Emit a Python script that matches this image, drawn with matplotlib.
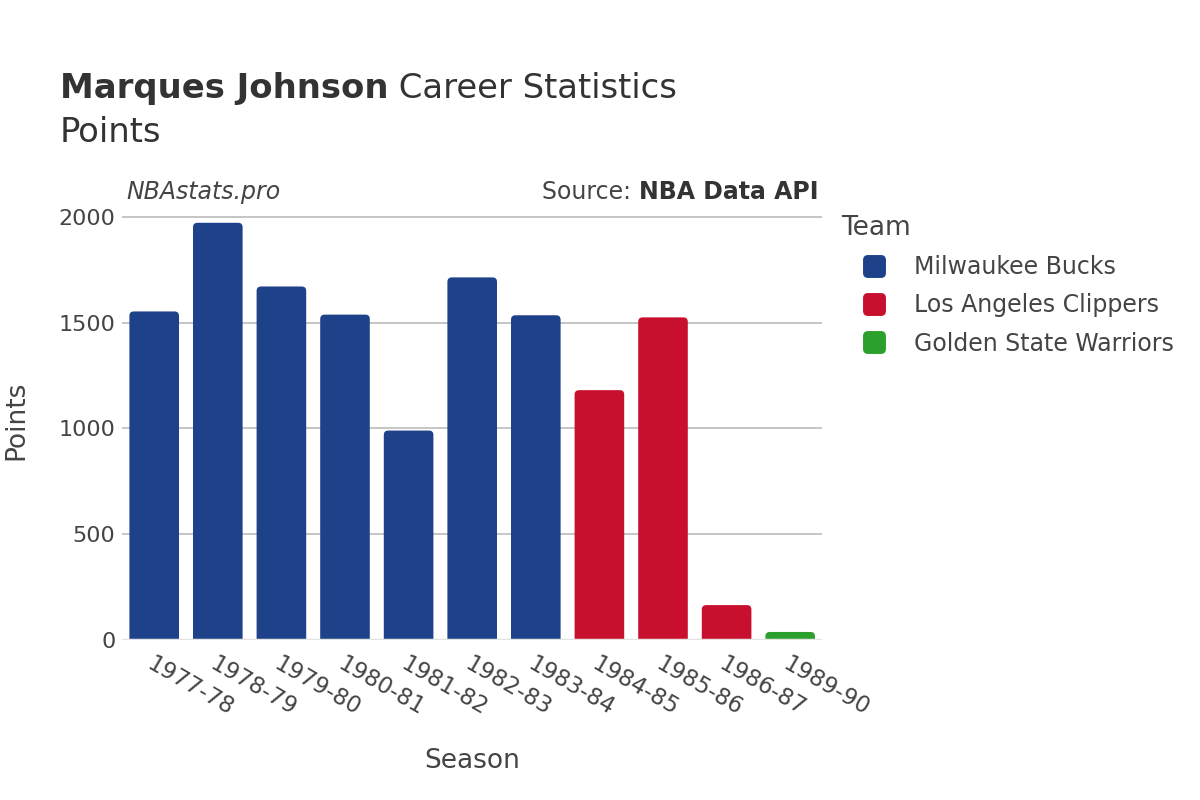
import matplotlib.pyplot as plt
from matplotlib.patches import FancyBboxPatch, BoxStyle
from matplotlib.lines import Line2D

seasons = ['1977-78', '1978-79', '1979-80', '1980-81', '1981-82', '1982-83',
           '1983-84', '1984-85', '1985-86', '1986-87', '1989-90']
points = [1553, 1972, 1671, 1538, 990, 1714, 1535, 1181, 1525, 165, 38]
teams = ['Milwaukee Bucks'] * 7 + ['Los Angeles Clippers'] * 3 + ['Golden State Warriors']

team_names = ['Milwaukee Bucks', 'Los Angeles Clippers', 'Golden State Warriors']
team_colors = {'Milwaukee Bucks': '#1d428a',
               'Los Angeles Clippers': '#c8102e',
               'Golden State Warriors': '#2ca02c'}

plt.rcParams['font.family'] = ['DejaVu Sans']
txt = '#444444'

fig = plt.figure(figsize=(12, 8), dpi=100)
ax = fig.add_axes([0.102, 0.2, 0.583, 0.549])

ymax = 2076
n = len(seasons)
ax.set_xlim(-0.5, n - 0.5)
ax.set_ylim(0, ymax)

# rounded top corners: aspect converts x-units to y-units on screen
bbox = ax.get_position()
px_x = n / (bbox.width * 1200)
px_y = ymax / (bbox.height * 800)
aspect = px_y / px_x
w = 0.78
r = 0.07
for i, (v, t) in enumerate(zip(points, teams)):
    b = ax.bar(i, v, width=w, color='none')[0]
    p = FancyBboxPatch((b.get_x(), -r * aspect * 1.5), b.get_width(), v + r * aspect * 1.5,
                       boxstyle=f'round,pad=0,rounding_size={r}',
                       mutation_aspect=aspect, facecolor=team_colors[t],
                       edgecolor='none', zorder=3)
    ax.add_patch(p)

ax.set_yticks([0, 500, 1000, 1500, 2000])
ax.set_yticklabels(['0', '500', '1000', '1500', '2000'])
ax.grid(axis='y', color='#bbbbbb', linewidth=1.2, zorder=0)
ax.axhline(0, color='#e3e3e3', linewidth=2.5, zorder=4)
for s in ax.spines.values():
    s.set_visible(False)
ax.tick_params(axis='both', length=0, labelsize=16, colors=txt, pad=5)
ax.set_xticks(range(n))
ax.set_xticklabels(seasons, rotation=-30, ha='left', va='top',
                   rotation_mode='anchor', fontsize=16.5)
ax.tick_params(axis='x', pad=9)

ax.set_xlabel('Season', fontsize=19, color=txt)
ax.set_ylabel('Points', fontsize=19, color=txt)
ax.xaxis.set_label_coords(0.5, -0.245)
ax.yaxis.set_label_coords(-0.133, 0.5)

fig.canvas.draw()
rend = fig.canvas.get_renderer()


def after(prev, s, **kw):
    ext = prev.get_window_extent(rend)
    x = ext.x1 / fig.bbox.width
    return fig.text(x, prev.get_position()[1], s, **kw)


t1 = fig.text(0.05, 0.889, 'Marques Johnson', fontsize=24.4, fontweight='bold',
              color='#333333', va='center')
after(t1, ' Career Statistics', fontsize=24.4, color='#333333', va='center')
fig.text(0.05, 0.835, 'Points', fontsize=24.4, color='#333333', va='center')

fig.text(0.105, 0.76, 'NBAstats.pro', fontsize=17, style='italic',
         color=txt, va='center')
src2 = fig.text(0.682, 0.76, 'NBA Data API', fontsize=17, color='#333333',
                va='center', ha='right', fontweight='bold')
ext = src2.get_window_extent(rend)
fig.text(ext.x0 / fig.bbox.width, 0.76, 'Source: ', fontsize=17, color=txt,
         va='center', ha='right')

# rounded square legend marker
rsq = BoxStyle.Round(pad=0, rounding_size=0.22)(-0.5, -0.5, 1, 1, 1.0)
handles = [Line2D([0], [0], marker=rsq, linestyle='none', markersize=16.5,
                  markerfacecolor=team_colors[t], markeredgecolor='none')
           for t in team_names]
leg = fig.legend(handles, team_names, loc='upper left',
                 bbox_to_anchor=(0.693, 0.743), frameon=False, fontsize=17,
                 title='Team', title_fontsize=19, labelcolor=txt,
                 handlelength=2.8, handletextpad=0.3, labelspacing=0.6,
                 borderaxespad=0)
leg.get_title().set_color(txt)
leg._legend_box.align = 'left'

fig.savefig('out.png', dpi=100)
